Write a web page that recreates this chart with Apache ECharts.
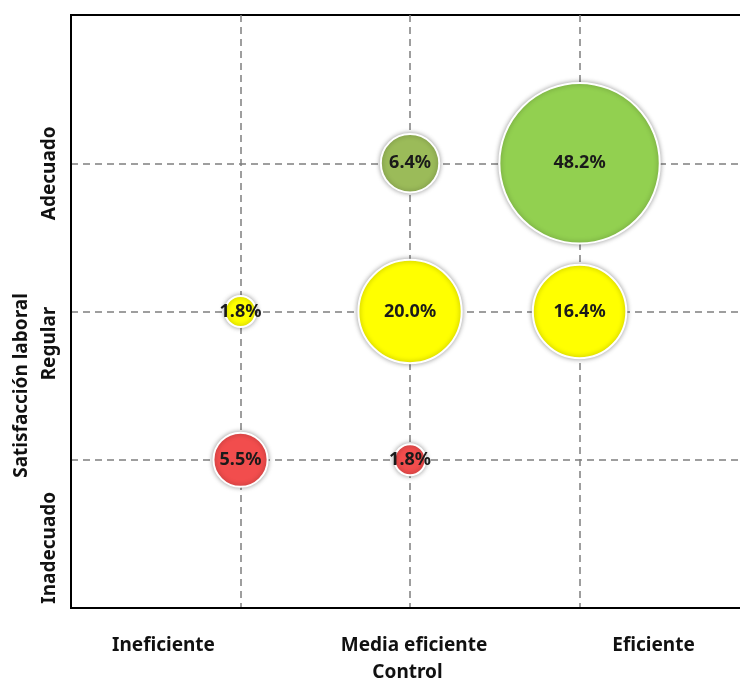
<!DOCTYPE html>
<html>
<head>
<meta charset="utf-8">
<script src="https://cdn.jsdelivr.net/npm/echarts@6/dist/echarts.min.js"></script>
<style>
  html, body { margin: 0; padding: 0; background: #fff; }
  #main { width: 740px; height: 682px; }
</style>
</head>
<body>
<div id="main"></div>
<script>
// categorias de los ejes
const controlCats = ['Ineficiente', 'Media eficiente', 'Eficiente']
const satisfCats = ['Inadecuado', 'Regular', 'Adecuado']

// burbujas: indice de control (1..3), indice de satisfaccion (1..3), porcentaje
const bubbleX = [1, 1, 2, 2, 2, 3, 3]
const bubbleY = [1, 2, 1, 2, 3, 2, 3]
const bubblePct = [5.5, 1.8, 1.8, 20.0, 6.4, 16.4, 48.2]

const bubbleColors = ['#f24d4d', '#ffff00', '#f24d4d', '#ffff00', '#9bbb59', '#ffff00', '#92d050']

const font = 'Noto Sans'
const chart = echarts.init(document.getElementById('main'))

const data = bubblePct.map((v, i) => ({
    value: [bubbleX[i], bubbleY[i], v],
    itemStyle: { color: bubbleColors[i] }
}))

// desplazamiento de las etiquetas (Excel las deja fuera de las lineas)
const xRich = {
    x0: { padding: [0, 154, 0, 0] },
    x1: { padding: [0, 0, 0, 8] },
    x2: { padding: [0, 0, 0, 148] }
}
const yRich = {
    y0: { padding: [0, 176, 0, 0] },
    y1: { padding: [0, 64, 0, 0] },
    y2: { padding: [0, 20, 0, 0] }
}
Object.values(xRich).concat(Object.values(yRich)).forEach(s => {
    s.fontFamily = font
    s.fontWeight = 'bold'
    s.fontSize = 19
    s.color = '#111'
})

const gridLine = { show: true, showMinLine: false, showMaxLine: false, lineStyle: { color: '#7f7f7f', width: 1.5, type: [7, 5] } }

const option = {
    backgroundColor: '#fff',
    animation: false,
    grid: {
        left: 71, top: 15, right: -4, bottom: 74,
        outerBoundsMode: 'none',
        containLabel: false,
        show: true,
        borderColor: '#000',
        borderWidth: 2
    },
    xAxis: {
        type: 'value',
        min: 0,
        max: 3.97,
        interval: 1,
        name: 'Control',
        nameLocation: 'middle',
        nameGap: 55,
        nameTextStyle: { fontFamily: font, fontWeight: 'bold', fontSize: 19, color: '#111' },
        axisLine: { show: true, lineStyle: { color: '#000', width: 2 } },
        axisTick: { show: false },
        axisLabel: {
            margin: 28,
            formatter: v => {
                const i = Math.round(v) - 1
                if (Math.abs(v - Math.round(v)) > 1e-6 || !controlCats[i]) return ''
                return '{x' + i + '|' + controlCats[i] + '}'
            },
            rich: xRich
        },
        splitLine: gridLine
    },
    yAxis: {
        type: 'value',
        min: 0,
        max: 4,
        interval: 1,
        name: 'Satisfacción laboral',
        nameLocation: 'middle',
        nameGap: 40,
        nameTextStyle: {
            fontFamily: font, fontWeight: 'bold', fontSize: 19, color: '#111',
            padding: [0, 148, 0, 0]
        },
        axisLine: { show: true, lineStyle: { color: '#000', width: 2 } },
        axisTick: { show: false },
        axisLabel: {
            rotate: 90,
            margin: 12,
            formatter: v => {
                const i = Math.round(v) - 1
                if (!satisfCats[i]) return ''
                return '{y' + i + '|' + satisfCats[i] + '}'
            },
            rich: yRich
        },
        splitLine: gridLine
    },
    series: [{
        type: 'scatter',
        data: data,
        symbolSize: d => 23.1 * Math.sqrt(d[2]),
        itemStyle: {
            opacity: 1,
            borderColor: '#fff',
            borderWidth: 2,
            shadowBlur: 5,
            shadowColor: 'rgba(0,0,0,0.35)'
        },
        label: {
            show: true,
            position: 'inside',
            formatter: p => p.value[2].toFixed(1) + '%',
            fontFamily: font,
            fontWeight: 'bold',
            fontSize: 18,
            color: '#1a1a1a'
        }
    }]
}
chart.setOption(option)
</script>
</body>
</html>
